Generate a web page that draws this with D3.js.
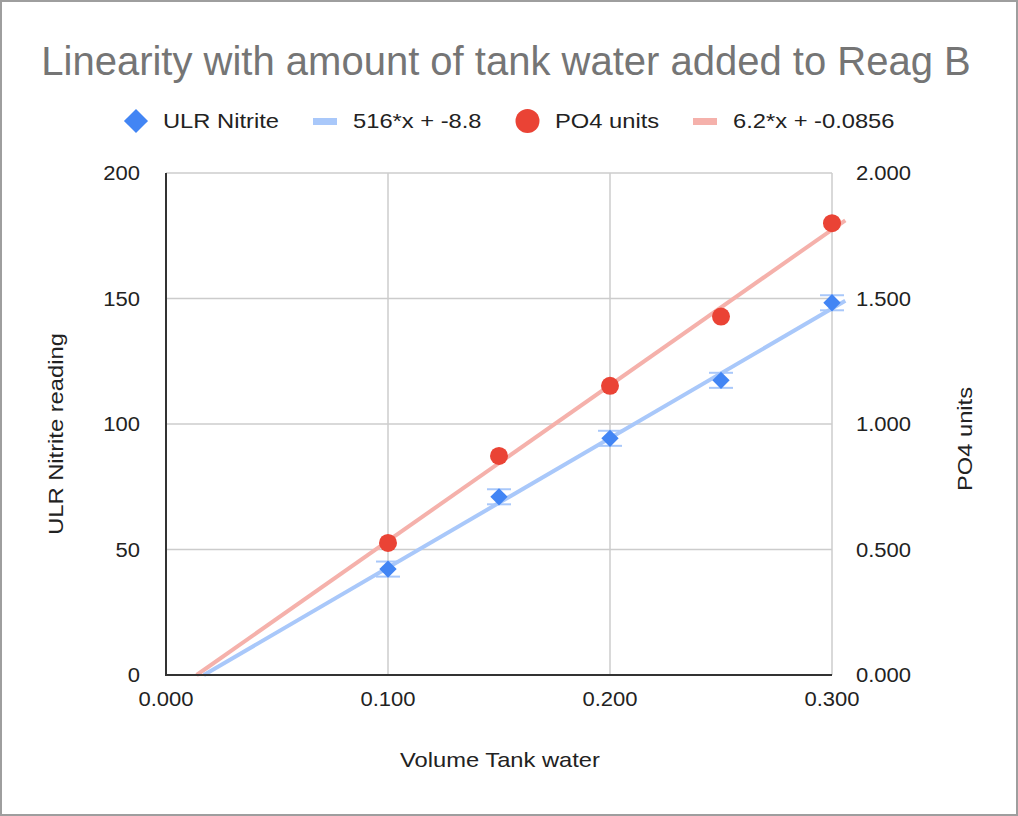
<!DOCTYPE html>
<html><head><meta charset="utf-8">
<script src="https://cdn.jsdelivr.net/npm/d3@7"></script>
<style>body{margin:0;background:#fff}svg{display:block}text{font-family:"Liberation Sans",Arial,sans-serif}</style>
</head><body><svg id="c" width="1018" height="816"></svg>
<script>
const volumes = [0.10, 0.15, 0.20, 0.25, 0.30];
const nitrite = [42.2, 71.0, 94.3, 117.4, 148.3];
const nitriteErr = [3, 3, 3, 3, 3];
const po4 = [0.526, 0.873, 1.152, 1.428, 1.800];
const nitriteFit = {slope: 516, intercept: -8.8, label: "516*x + -8.8"};
const po4Fit = {slope: 6.2, intercept: -0.0856, label: "6.2*x + -0.0856"};
const xTicks = [0, 0.1, 0.2, 0.3];
const yLeftTicks = [0, 50, 100, 150, 200];
const yRightTicks = [0, 0.5, 1.0, 1.5, 2.0];
const trendXMax = 0.306;

const svg = d3.select("#c");
const blue = "#4285f4", red = "#ea4335", blueL = "#a9c8fa", redL = "#f5b1ab";
const SX = 1.13;

function txt(parent, x, y, s, opts){
  opts = opts || {};
  const sx = opts.sx || SX;
  const t = parent.append("text")
    .attr("transform", `translate(${x},${y}) ${opts.rot ? "rotate(-90)" : ""} scale(${sx},1)`)
    .attr("font-size", opts.size || 21).attr("fill", opts.fill || "#222")
    .attr("text-anchor", opts.anchor || "start").text(s);
  return t;
}

svg.append("rect").attr("x",1).attr("y",1).attr("width",1016).attr("height",814)
  .attr("fill","#fff").attr("stroke","#9e9e9e").attr("stroke-width",2);

const x = d3.scaleLinear().domain([0,0.3]).range([166,832]);
const yL = d3.scaleLinear().domain([0,200]).range([675,173]);
const yR = d3.scaleLinear().domain([0,2]).range([675,173]);

// gridlines
const g = svg.append("g");
g.selectAll(".vg").data(xTicks.filter(d=>d>0)).join("line")
  .attr("x1",d=>x(d)).attr("x2",d=>x(d)).attr("y1",173).attr("y2",675)
  .attr("stroke","#cccccc").attr("stroke-width",1.5);
g.selectAll(".hg").data(yLeftTicks.filter(d=>d>0)).join("line")
  .attr("y1",d=>yL(d)).attr("y2",d=>yL(d)).attr("x1",166).attr("x2",832)
  .attr("stroke","#cccccc").attr("stroke-width",1.5);

// trendlines
function trend(fit, yS){
  const x0 = -fit.intercept/fit.slope;
  return [[x(x0), yS(0)], [x(trendXMax), yS(fit.slope*trendXMax+fit.intercept)]];
}
svg.append("path").attr("d", d3.line()(trend(po4Fit, yR))).attr("stroke",redL).attr("stroke-width",4).attr("fill","none");
svg.append("path").attr("d", d3.line()(trend(nitriteFit, yL))).attr("stroke",blueL).attr("stroke-width",4).attr("fill","none");

// axes lines
svg.append("line").attr("x1",166).attr("x2",166).attr("y1",173).attr("y2",676).attr("stroke","#333").attr("stroke-width",2);
svg.append("line").attr("x1",165).attr("x2",832).attr("y1",675).attr("y2",675).attr("stroke","#333").attr("stroke-width",2);

// error bars
const eb = svg.append("g").attr("stroke",blueL).attr("stroke-width",2);
volumes.forEach((v,i)=>{
  const cx = x(v), t = yL(nitrite[i]+nitriteErr[i]), b = yL(nitrite[i]-nitriteErr[i]);
  eb.append("line").attr("x1",cx).attr("x2",cx).attr("y1",t).attr("y2",b);
  eb.append("line").attr("x1",cx-12).attr("x2",cx+12).attr("y1",t).attr("y2",t);
  eb.append("line").attr("x1",cx-12).attr("x2",cx+12).attr("y1",b).attr("y2",b);
});

// points
const diamond = d3.symbol().type(d3.symbolSquare).size(150);
svg.selectAll(".dm").data(volumes).join("path")
  .attr("d",diamond()).attr("fill",blue)
  .attr("transform",(d,i)=>`translate(${x(d)},${yL(nitrite[i])}) rotate(45)`);
svg.selectAll(".ci").data(volumes).join("circle")
  .attr("cx",d=>x(d)).attr("cy",(d,i)=>yR(po4[i])).attr("r",9).attr("fill",red);

// tick labels
const tl = svg.append("g");
xTicks.forEach(d=>txt(tl, x(d), 706, d3.format(".3f")(d), {size:19.5, anchor:"middle"}));
yLeftTicks.forEach(d=>txt(tl, 140, yL(d)+7, String(d), {size:19.5, anchor:"end"}));
yRightTicks.forEach(d=>txt(tl, 856, yR(d)+7, d3.format(".3f")(d), {size:19.5}));

// axis titles
txt(svg, 500, 767, "Volume Tank water", {anchor:"middle"});
txt(svg, 63, 434, "ULR Nitrite reading", {anchor:"middle", rot:true});
txt(svg, 972, 439, "PO4 units", {anchor:"middle", rot:true});

// title
txt(svg, 506, 75, "Linearity with amount of tank water added to Reag B", {size:40, sx:1, anchor:"middle", fill:"#757575"});

// legend
const lg = svg.append("g");
lg.append("path").attr("d",d3.symbol().type(d3.symbolSquare).size(290)()).attr("fill",blue).attr("transform","translate(136,121) rotate(45)");
txt(lg, 163, 128, "ULR Nitrite");
lg.append("rect").attr("x",313).attr("y",118).attr("width",24).attr("height",7).attr("fill",blueL);
txt(lg, 353, 128, nitriteFit.label);
lg.append("circle").attr("cx",527.5).attr("cy",121).attr("r",12).attr("fill",red);
txt(lg, 555, 128, "PO4 units");
lg.append("rect").attr("x",693).attr("y",118).attr("width",24).attr("height",7).attr("fill",redL);
txt(lg, 733, 128, po4Fit.label);
</script></body></html>
